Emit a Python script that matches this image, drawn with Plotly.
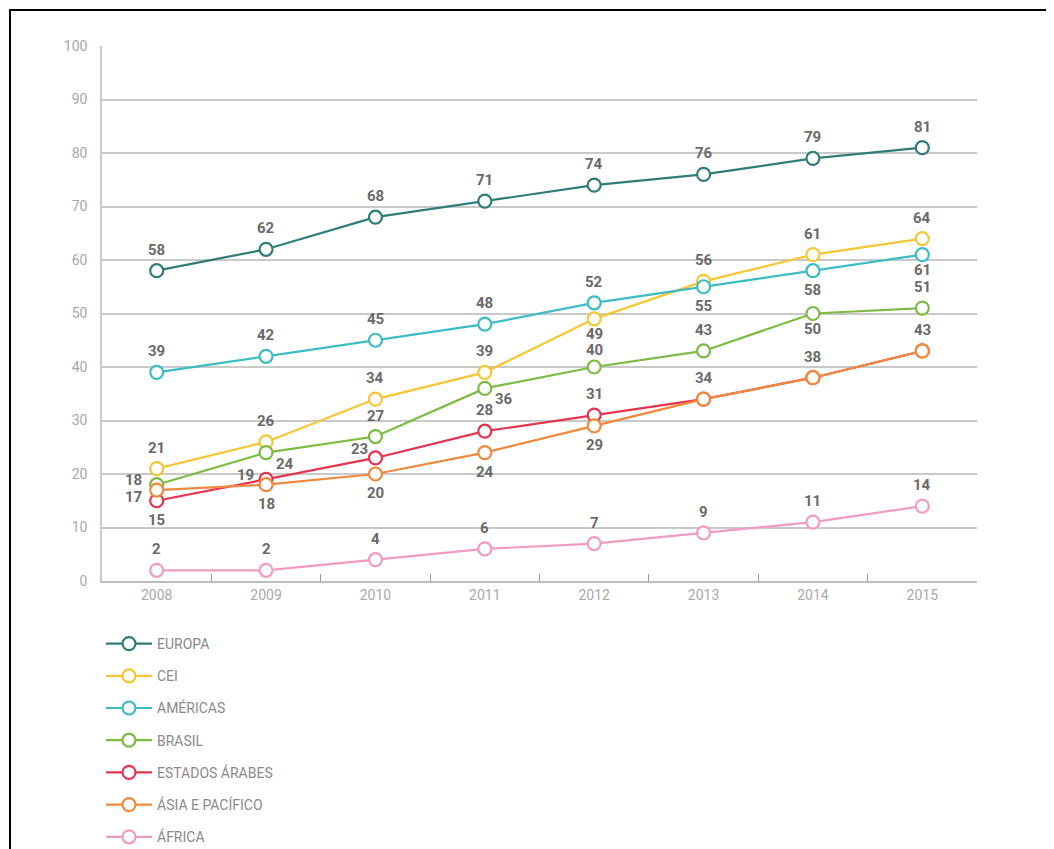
import plotly.graph_objects as go

years = ["2008", "2009", "2010", "2011", "2012", "2013", "2014", "2015"]

europa = [58, 62, 68, 71, 74, 76, 79, 81]
cei = [21, 26, 34, 39, 49, 56, 61, 64]
americas = [39, 42, 45, 48, 52, 55, 58, 61]
brasil = [18, 24, 27, 36, 40, 43, 50, 51]
estados_arabes = [15, 19, 23, 28, 31, 34, 38, 43]
asia_pacifico = [17, 18, 20, 24, 29, 34, 38, 43]
africa = [2, 2, 4, 6, 7, 9, 11, 14]

y_ticks = [0, 10, 20, 30, 40, 50, 60, 70, 80, 90, 100]

# label placement codes per point ("" = no label shown)
series = [
    ("EUROPA", europa, "#2f7c79", ["t"] * 8),
    ("CEI", cei, "#f6c634", ["t", "t", "t", "t", "bs", "t", "t", "t"]),
    ("AMÉRICAS", americas, "#3cbcc5", ["t", "t", "t", "t", "t", "b", "b", "bs"]),
    ("BRASIL", brasil, "#7dbb44", ["lt", "br", "t", "br", "ts", "t", "bs", "t"]),
    ("ESTADOS ÁRABES", estados_arabes, "#e6334f", ["b", "l", "tl", "t", "t", "t", "t", "t"]),
    ("ÁSIA E PACÍFICO", asia_pacifico, "#f0893d", ["lb", "b", "b", "b", "b", "", "", ""]),
    ("ÁFRICA", africa, "#f29bc1", ["t"] * 8),
]

offsets = {
    "t": (0, 21), "ts": (0, 17), "b": (0, -19), "bs": (0, -15),
    "l": (-21, 4), "tl": (-16, 9), "br": (19, -11), "lt": (-23, 5), "lb": (-23, -7),
}

fig = go.Figure()
annotations = []
for name, vals, color, pos in series:
    fig.add_trace(go.Scatter(
        x=years, y=vals, name=name, mode="lines+markers",
        line=dict(color=color, width=2.2),
        marker=dict(symbol="circle", size=13, color="white", line=dict(color=color, width=2.2)),
        legendgroup=name, cliponaxis=False,
    ))
    for i, (v, p) in enumerate(zip(vals, pos)):
        if not p:
            continue
        dx, dy = offsets[p]
        annotations.append(dict(
            x=i, y=v, xref="x", yref="y", text=str(v), showarrow=False,
            xshift=dx, yshift=dy, xanchor="center", yanchor="middle",
            font=dict(family="Roboto", size=15, color="#6a6a6a", weight="bold"),
        ))

# page offset: the browser body adds ~8px margin
OFF = 8
W, H = 1054 - OFF, 849 - OFF
L, R, T, B = 102 - OFF, 1054 - 977, 46 - OFF, 849 - 581
pw, ph = W - L - R, H - T - B

def px(xp):
    return (xp - OFF - L) / pw

def py(yp):
    return (H - B - (yp - OFF)) / ph

fig.update_layout(
    width=W, height=H,
    margin=dict(l=L, r=R, t=T, b=B, autoexpand=False),
    paper_bgcolor="white", plot_bgcolor="white",
    font=dict(family="Roboto", color="#999999"),
    showlegend=True,
    legend=dict(
        x=px(101), y=py(628), xanchor="left", yanchor="top",
        orientation="v", tracegroupgap=11, itemwidth=46,
        font=dict(family="Roboto", size=14, color="#8a8a8a"),
        bgcolor="rgba(0,0,0,0)",
    ),
    xaxis=dict(
        type="category", range=[-0.5, 7.5],
        showgrid=False, showline=True, linecolor="#bdbdbd", linewidth=1.5,
        ticks="inside", tickson="boundaries", ticklen=7, tickcolor="#9a9a9a", tickwidth=1.2,
        tickfont=dict(family="Roboto", size=14, color="#a8a8a8"),
        zeroline=False, fixedrange=True,
    ),
    yaxis=dict(
        range=[0, 100], tickvals=y_ticks,
        showgrid=True, gridcolor="#c9c9c9", gridwidth=1.5,
        showline=True, linecolor="#c9c9c9", linewidth=1.5,
        ticks="", ticklabelstandoff=10,
        tickfont=dict(family="Roboto", size=14, color="#a8a8a8"),
        zeroline=False, fixedrange=True,
    ),
    annotations=annotations,
    shapes=[
        dict(type="line", xref="paper", yref="paper", x0=px(9), x1=px(1060), y0=py(10), y1=py(10),
             line=dict(color="black", width=2)),
        dict(type="line", xref="paper", yref="paper", x0=px(10), x1=px(10), y0=py(9), y1=py(860),
             line=dict(color="black", width=2)),
    ],
)

fig.write_html("out.html")
